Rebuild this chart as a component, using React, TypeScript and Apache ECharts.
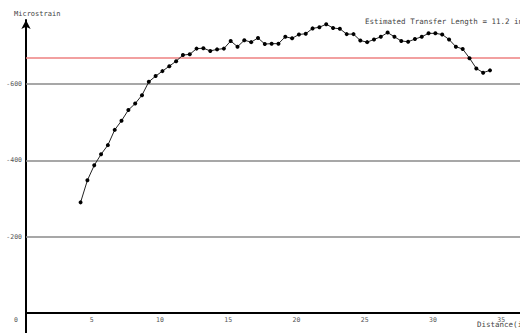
import React, { useEffect, useRef } from "react";
import * as echarts from "echarts";

const distances = [
  4, 4.5, 5, 5.5, 6, 6.5, 7, 7.5, 8, 8.5, 9, 9.5, 10, 10.5, 11, 11.5, 12, 12.5, 13, 13.5,
  14, 14.5, 15, 15.5, 16, 16.5, 17, 17.5, 18, 18.5, 19, 19.5, 20, 20.5, 21, 21.5, 22, 22.5,
  23, 23.5, 24, 24.5, 25, 25.5, 26, 26.5, 27, 27.5, 28, 28.5, 29, 29.5, 30, 30.5, 31, 31.5,
  32, 32.5, 33, 33.5, 34,
];
const microstrain = [
  -290, -348, -387, -416, -440, -480, -504, -532, -549, -571, -606, -621, -634, -647, -660,
  -676, -678, -693, -694, -687, -691, -693, -713, -698, -715, -710, -721, -705, -706, -706,
  -724, -720, -730, -732, -746, -749, -757, -747, -745, -731, -731, -714, -710, -717, -724,
  -735, -724, -713, -711, -718, -724, -733, -733, -730, -717, -698, -692, -668, -641, -630,
  -636,
];
const gridValues = [-600, -400, -200];
const amsLine = -668;
const xTicks = [5, 10, 15, 20, 25, 30, 35];
const titleText = "Estimated Transfer Length = 11.2 in";
const yName = "Microstrain";
const xName = "Distance(in)";

export default function App() {
  const ref = useRef<HTMLDivElement>(null);
  useEffect(() => {
    if (!ref.current) return;
    const chart = echarts.init(ref.current, null, { renderer: "svg" });
    const font = "DejaVu Sans Mono";
    chart.setOption({
      animation: false,
      backgroundColor: "#ffffff",
      grid: {
        left: 26,
        right: 0,
        top: 20,
        bottom: 20,
        containLabel: false,
        outerBoundsMode: "none",
      },
      xAxis: {
        type: "value",
        min: 0,
        max: 36.2,
        axisLine: { onZero: false, lineStyle: { color: "#000", width: 2 } },
        axisTick: { show: false },
        splitLine: { show: false },
        axisLabel: {
          customValues: xTicks,
          color: "#555",
          fontSize: 6.5,
          fontFamily: font,
          margin: 3,
          padding: [0, 5, 0, 0],
        },
      },
      yAxis: {
        type: "value",
        inverse: true,
        min: -768,
        max: 0,
        axisLine: {
          show: true,
          onZero: false,
          symbol: ["none", "arrow"],
          symbolSize: [7, 9],
          lineStyle: { color: "#000", width: 2 },
        },
        axisTick: { show: false },
        splitLine: { show: false },
        axisLabel: {
          customValues: gridValues,
          color: "#555",
          fontSize: 6.5,
          fontFamily: font,
          margin: 4,
        },
      },
      series: [
        {
          type: "line",
          data: distances.map((d, i) => [d, microstrain[i]]),
          symbol: "circle",
          symbolSize: 4,
          itemStyle: { color: "#000" },
          lineStyle: { color: "#222", width: 1 },
          z: 5,
          markLine: {
            silent: true,
            symbol: "none",
            label: { show: false },
            data: [
              ...gridValues.map((v) => ({
                yAxis: v,
                lineStyle: { color: "#8a8a8a", width: 1.5, type: "solid" },
              })),
              { yAxis: amsLine, lineStyle: { color: "#ee8080", width: 1.5, type: "solid" } },
            ],
            z: 2,
          },
        },
      ],
      graphic: [
        {
          type: "line",
          shape: { x1: 26, y1: 313, x2: 26, y2: 333 },
          style: { stroke: "#000", lineWidth: 2 },
        },
        {
          type: "text",
          left: 14,
          top: 10,
          style: { text: yName, fontSize: 7, fontFamily: font, fill: "#444" },
        },
        {
          type: "text",
          left: 365,
          top: 17,
          style: { text: titleText, fontSize: 7.5, fontFamily: font, fill: "#444" },
        },
        {
          type: "text",
          left: 477,
          top: 320,
          style: { text: xName, fontSize: 7.5, fontFamily: font, fill: "#444" },
        },
        {
          type: "text",
          left: 14,
          top: 316,
          style: { text: "0", fontSize: 6.5, fontFamily: font, fill: "#555" },
        },
      ],
    });
    return () => chart.dispose();
  }, []);
  return (
    <div
      ref={ref}
      style={{ position: "fixed", left: 0, top: 0, width: 520, height: 333 }}
    />
  );
}
